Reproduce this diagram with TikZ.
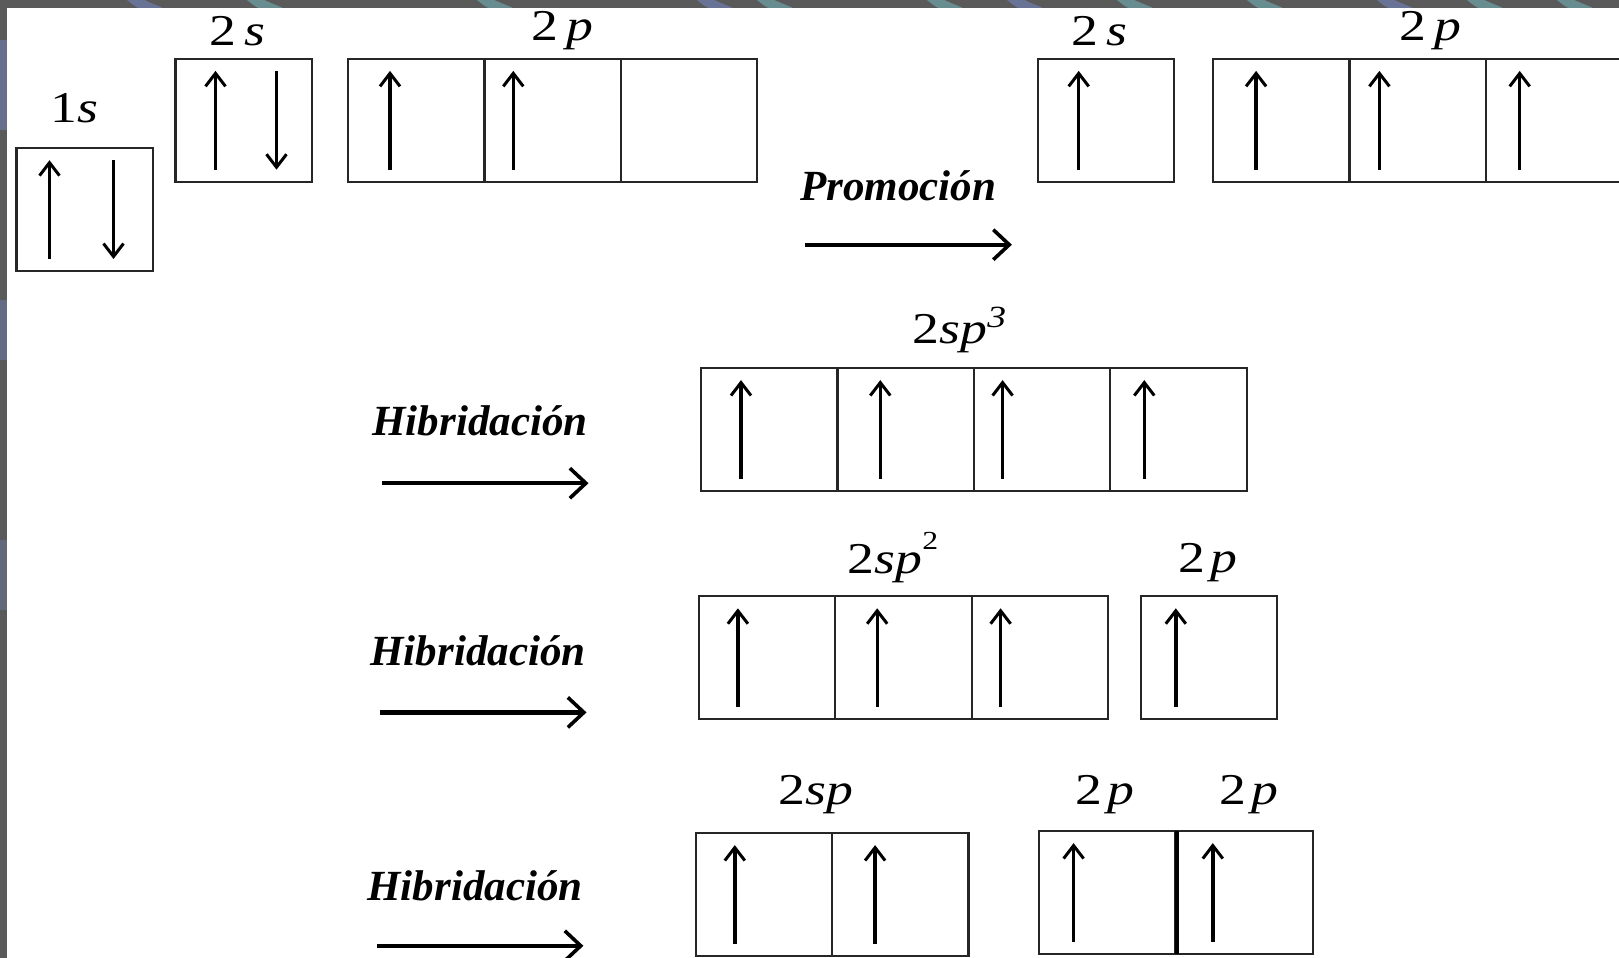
\documentclass[tikz,border=0pt]{standalone}
\usepackage{fontspec}
\usepackage{graphicx}
\setmainfont{Liberation Serif}
\usetikzlibrary{arrows.meta}
\newdimen\px \px=0.5pt
\definecolor{frame}{HTML}{5A5A5A}
\definecolor{teal1}{HTML}{6FA3A8}
\definecolor{blue1}{HTML}{6F7FB0}
\newcommand\wide[1]{\scalebox{1.22}[1.0]{#1}}
\tikzset{
  cell/.style={rectangle, draw=black!85, line width=1.1pt, minimum width=68.2pt, minimum height=61.4pt, inner sep=0pt, outer sep=0pt},
  spin/.style={line width=1.7pt, -{Straight Barb[length=6.5pt,width=10pt,line width=1.5pt]}},
  bigarrow/.style={line width=2.2pt, -{Straight Barb[length=8pt,width=15pt,line width=1.8pt]}},
  lab/.style={font=\fontsize{22}{24}\selectfont, inner sep=0pt},
  proc/.style={font=\fontsize{21.5}{24}\selectfont\bfseries\itshape, inner sep=0pt},
}
\newcommand\spinup[2]{\draw[spin] ([xshift=#2\px,yshift=12\px]#1.south west) -- ([xshift=#2\px,yshift=-12\px]#1.north west);}
\newcommand\spindown[2]{\draw[spin] ([xshift=#2\px,yshift=-12\px]#1.north west) -- ([xshift=#2\px,yshift=12\px]#1.south west);}
\begin{document}
\begin{tikzpicture}[x=0.5pt,y=-0.5pt]
\useasboundingbox (0,0) rectangle (1619,958);
\fill[frame] (0,0) rectangle (1619,958);
\begin{scope}
  \clip (0,0) rectangle (1619,8);
  \foreach \x/\c in {130/blue1,250/teal1,480/teal1,700/blue1,760/teal1,930/teal1,1010/blue1,1120/teal1,1250/teal1,1380/blue1,1470/teal1,1560/teal1}{
    \draw[\c, line width=5pt, opacity=0.7] (\x,-4) .. controls (\x+10,4) .. (\x+30,12);
  }
\end{scope}
\begin{scope}
  \clip (0,0) rectangle (7,958);
  \fill[blue1, opacity=0.6] (0,40) rectangle (7,130);
  \fill[blue1, opacity=0.5] (0,300) rectangle (7,360);
  \fill[blue1, opacity=0.4] (0,540) rectangle (7,610);
\end{scope}
\fill[white] (7,8) rectangle (1619,958);

% row 1 (ground state)
\node[cell] (s1) at (84.7,209.6) {};
\node[cell] (s2) at (243.7,120.3) {};
\node[cell] (pa) at (416.2,120.3) {};
\node[cell] (pb) at (552.5,120.3) {};
\node[cell] (pc) at (688.8,120.3) {};
\node[lab] (l1s) at (74.3,108.4) {\wide{1\textit{s}}};
\node[lab] (l2s) at (237.5,31) {\wide{2\hspace{0.15em}\textit{s}}};
\node[lab] (l2p) at (562.7,31) {\wide{2\hspace{0.15em}\textit{p}}};
\spinup{s1}{33}\spindown{s1}{97}
\spinup{s2}{40}\spindown{s2}{101}
\spinup{pa}{42}\spinup{pb}{29}

% promoted state
\node[cell] (rs) at (1105.9,120.3) {};
\node[cell] (ra) at (1281.3,120.3) {};
\node[cell] (rb) at (1417.6,120.3) {};
\node[cell] (rc) at (1553.9,120.3) {};
\node[lab] (lrs) at (1099.6,31) {\wide{2\hspace{0.15em}\textit{s}}};
\node[lab] (lrp) at (1430,31) {\wide{2\hspace{0.15em}\textit{p}}};
\spinup{rs}{41}\spinup{ra}{43}\spinup{rb}{30}\spinup{rc}{34}
\node[proc] (prom) at (898.3,185.9) {Promoción};
\coordinate (pr1) at (805.4,244.7);
\coordinate (pr2) at (1011.9,244.7);
\draw[bigarrow] (pr1) -- (pr2);

% sp3
\node[cell] (ta) at (769.2,429.5) {};
\node[cell] (tb) at (905.5,429.5) {};
\node[cell] (tc) at (1041.8,429.5) {};
\node[cell] (td) at (1178.5,429.5) {};
\node[lab] (lsp3) at (960,330) {\wide{2\textit{sp}$^{\mathit{3}}$}};
\spinup{ta}{40}\spinup{tb}{43}\spinup{tc}{29}\spinup{td}{34}
\node[proc] (h1) at (480,421) {Hibridación};
\coordinate (h1a) at (382,483.2);
\coordinate (h1b) at (588.5,483.2);
\draw[bigarrow] (h1a) -- (h1b);

% sp2
\node[cell] (ua) at (767.1,657.7) {};
\node[cell] (ub) at (903.4,657.7) {};
\node[cell] (uc) at (1039.8,657.7) {};
\node[cell] (ud) at (1209,657.7) {};
\node[lab] (lsp2) at (893,557.5) {\wide{2\textit{sp}\raisebox{0.55em}{\fontsize{13}{14}\selectfont 2}}};
\node[lab] (lup) at (1208,562.7) {\wide{2\hspace{0.1em}\textit{p}}};
\spinup{ua}{39}\spinup{ub}{42}\spinup{uc}{29}\spinup{ud}{35}
\node[proc] (h2) at (478,650.5) {Hibridación};
\coordinate (h2a) at (380,712.4);
\coordinate (h2b) at (586.5,712.4);
\draw[bigarrow] (h2a) -- (h2b);

% sp
\node[cell] (va) at (764,894.5) {};
\node[cell] (vb) at (900.3,894.5) {};
\node[cell] (vc) at (1106.8,892.5) {};
\node[cell] (vd) at (1245,892.5) {};
\draw[line width=2.2pt] (vd.north west) -- (vd.south west);
\node[lab] (lsp) at (815.7,795) {\wide{2\textit{sp}}};
\node[lab] (lvc) at (1104.8,795) {\wide{2\hspace{0.1em}\textit{p}}};
\node[lab] (lvd) at (1249.3,795) {\wide{2\hspace{0.1em}\textit{p}}};
\spinup{va}{39}\spinup{vb}{43}\spinup{vc}{35}\spinup{vd}{36}
\node[proc] (h3) at (475,886) {Hibridación};
\coordinate (h3a) at (376.9,945.8);
\coordinate (h3b) at (583.4,945.8);
\draw[bigarrow] (h3a) -- (h3b);
\end{tikzpicture}
\end{document}
